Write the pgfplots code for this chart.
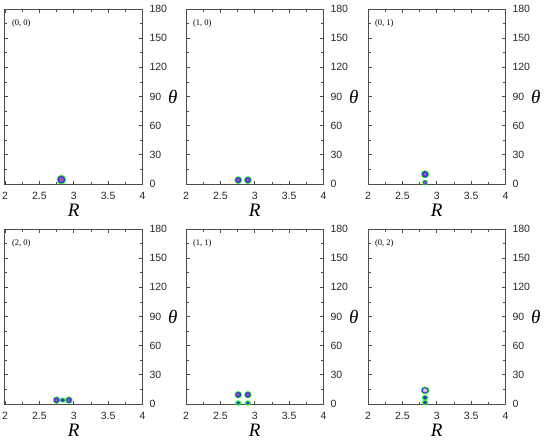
\documentclass[border=0pt]{standalone}
\usepackage{fontspec}
\usepackage{pgfplots}
\pgfplotsset{compat=1.18}
\setmainfont{Liberation Serif}
\newfontfamily\arial{Liberation Sans}
\definecolor{cg}{RGB}{40,235,40}
\definecolor{cb}{RGB}{40,40,235}
\definecolor{cp}{RGB}{175,60,235}
\definecolor{co}{RGB}{120,130,50}
\tikzset{plab/.style={anchor=west, font=\fontsize{8.5}{9}\selectfont, inner sep=0pt}}
\pgfplotsset{
  panel/.style={
    scale only axis, width=137.5pt, height=175pt,
    anchor=north west,
    xmin=2, xmax=4, ymin=0, ymax=180,
    xtick={2,2.5,...,4}, ytick={0,30,...,180},
    minor x tick num=1, minor y tick num=1,
    tick align=inside,
    major tick length=3.5pt, minor tick length=2.5pt,
    yticklabel pos=right,
    axis line style={black!70, line width=1pt},
    every tick/.style={black!70, line width=0.8pt},
    /pgf/number format/assume math mode=true,
    ticklabel style={font=\arial\fontsize{10.5}{10.5}\selectfont, black!85},
    yticklabel style={xshift=3.5pt},
    xticklabel style={yshift=-5pt},
    xlabel={\itshape R},
    ylabel={\itshape θ},
    xlabel style={at={(axis description cs:0.5,-0.15)}, anchor=center, font=\fontsize{19}{19}\selectfont},
    ylabel style={rotate=-90, at={(axis description cs:1.22,0.5)}, anchor=center, font=\fontsize{19}{19}\selectfont},
    clip=true,
  },
}
% #1 outer green, #2 blue, #3 purple, #4 centre, #5 coords
\newcommand\blob[5]{%
  \addplot[only marks, mark=*, color=cg, mark size=#1pt, mark options={draw=none}] coordinates {#5};
  \addplot[only marks, mark=*, color=cb, mark size=#2pt, mark options={draw=none}] coordinates {#5};
  \addplot[only marks, mark=*, color=cp, mark size=#3pt, mark options={draw=none}] coordinates {#5};
  \addplot[only marks, mark=*, color=co, mark size=#4pt, mark options={draw=none}] coordinates {#5};
}
\newcommand\sblob[3]{%
  \addplot[only marks, mark=*, color=cg, mark size=#1pt, mark options={draw=none, xscale=1.2}] coordinates {#3};
  \addplot[only marks, mark=*, color=cb, mark size=#2pt, mark options={draw=none, xscale=1.2}] coordinates {#3};
}
\begin{document}
\begin{tikzpicture}
\useasboundingbox (0,0) rectangle (550pt,-445pt);
% row 1
\begin{axis}[panel, at={(5pt,-9pt)}]
  \blob{4.6}{3.4}{2.3}{1.0}{(2.82,4.5)}
  \node[plab] at (rel axis cs:0.05,0.92) {(0, 0)};
\end{axis}
\begin{axis}[panel, at={(186pt,-9pt)}]
  \blob{3.6}{2.6}{1.7}{0.5}{(2.76,4) (2.90,4)}
  \node[plab] at (rel axis cs:0.05,0.92) {(1, 0)};
\end{axis}
\begin{axis}[panel, at={(368pt,-9pt)}]
  \blob{3.8}{2.8}{1.8}{0.4}{(2.83,10)}
  \blob{2.6}{1.9}{1.2}{0.3}{(2.83,1.5)}
  \node[plab] at (rel axis cs:0.05,0.92) {(0, 1)};
\end{axis}
% row 2
\begin{axis}[panel, at={(5pt,-229pt)}]
  \blob{3.4}{2.5}{1.6}{0.4}{(2.75,4) (2.93,4)}
  \sblob{2.3}{1.4}{(2.84,4)}
  \node[plab] at (rel axis cs:0.05,0.92) {(2, 0)};
\end{axis}
\begin{axis}[panel, at={(186pt,-229pt)}]
  \blob{3.4}{2.5}{1.6}{0.4}{(2.76,9.5) (2.90,9.5)}
  \sblob{2.4}{1.2}{(2.76,1) (2.90,1)}
  \node[plab] at (rel axis cs:0.05,0.92) {(1, 1)};
\end{axis}
\begin{axis}[panel, at={(368pt,-229pt)}]
  \addplot[only marks, mark=*, color=cg, mark size=3.6pt, mark options={draw=none, xscale=1.15}] coordinates {(2.83,14)};
  \addplot[only marks, mark=*, color=cb, mark size=2.7pt, mark options={draw=none, xscale=1.15}] coordinates {(2.83,14)};
  \addplot[only marks, mark=*, color=cp!35!white, mark size=1.8pt, mark options={draw=none, xscale=1.15}] coordinates {(2.83,14)};
  \sblob{2.5}{1.5}{(2.83,6.5)}
  \sblob{2.4}{1.3}{(2.83,1.5)}
  \node[plab] at (rel axis cs:0.05,0.92) {(0, 2)};
\end{axis}
\end{tikzpicture}
\end{document}
